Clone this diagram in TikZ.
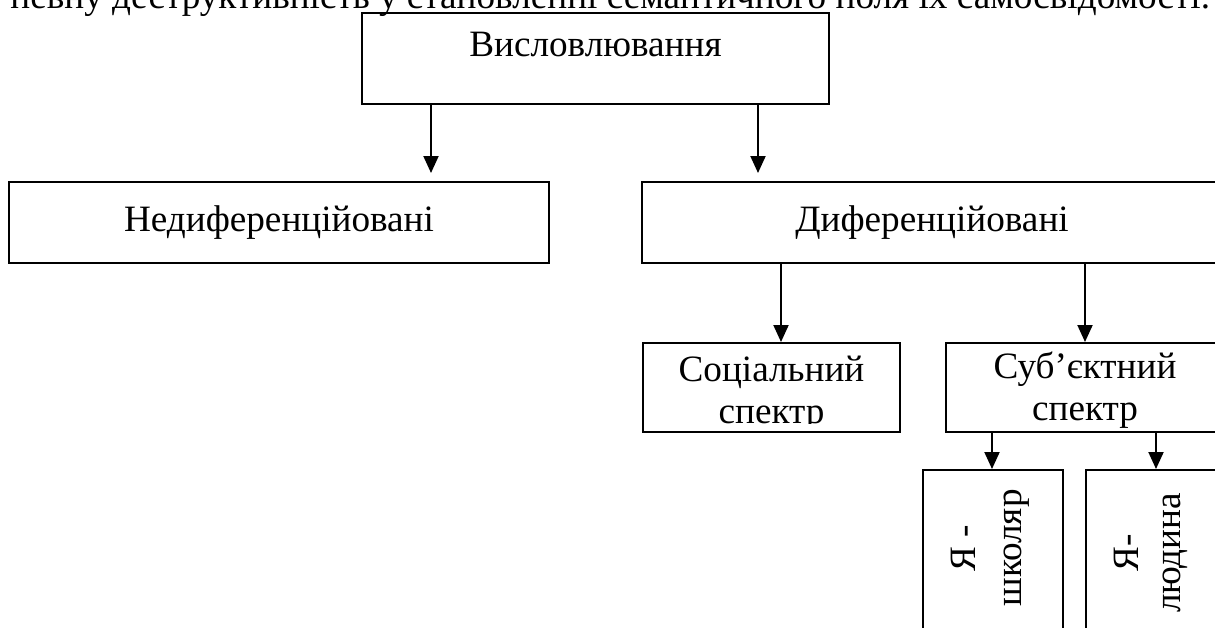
\documentclass[tikz,border=0pt]{standalone}
\usepackage{fontspec}
\setmainfont{Liberation Serif}
\usepackage{tikz}
\usetikzlibrary{arrows.meta,fit}
\tikzset{
  font={\fontsize{18.6pt}{21pt}\selectfont}}

\begin{document}
\begin{tikzpicture}[x=0.5pt,y=-0.5pt]
\tikzstyle{every node}+=[inner sep=0pt]
\tikzstyle{box}=[draw=black, line width=1pt]
\tikzstyle{arr}=[black, line width=1pt, -{Triangle[width=7.5pt,length=8.5pt]}]
\tikzstyle{vtext}=[rotate=90, align=center, font={\fontsize{18.6pt}{23pt}\selectfont}]
\useasboundingbox (0,0) rectangle (1215,627);
% line of the page text above the scheme
\node [anchor=base west] (prev) at (10,8) {певну деструктивність у становленні семантичного поля їх самосвідомості.};
% level 1
\node [box, fit={(362,13) (829,104)}] (vysl) {};
\node [anchor=base] (vysl-t) at (595.5,56) {Висловлювання};
% level 2
\node [box, fit={(9,182) (549,263)}] (nedyf) {};
\node [anchor=base] (nedyf-t) at (279,231) {Недиференційовані};
\node [box, fit={(642,182) (1240,263)}] (dyf) {};
\node [anchor=base] (dyf-t) at (932,231) {Диференційовані};
\draw [arr] (vysl.south west) ++(70,0) -- ++(0,68);
\draw [arr] (vysl.south west) ++(397,0) -- ++(0,68);
% level 3
\node [box, fit={(643,343) (900,432)}] (soc) {};
\begin{scope}
\clip (soc.north west) rectangle (900,423);
\node [align=center] (soc-t) at (771.5,394) {Соціальний\\спектр};
\end{scope}
\node [box, fit={(946,343) (1240,432)}] (sub) {};
\node [align=center] (sub-t) at (1085,390) {Суб’єктний\\спектр};
\draw [arr] (dyf.south west) ++(140,0) -- ++(0,78);
\draw [arr] (dyf.south west) ++(444,0) -- ++(0,78);
% level 4
\node [box, fit={(923,470) (1063,640)}] (shk) {};
\node [vtext] (shk-t) at (990,548) {Я -\\школяр};
\node [box, fit={(1086,470) (1240,640)}] (lud) {};
\node [vtext, font={\fontsize{18.6pt}{21pt}\selectfont}] (lud-t) at (1151,553) {Я-\\людина};
\draw [arr] (sub.south west) ++(47,0) -- ++(0,36);
\draw [arr] (sub.south west) ++(211,0) -- ++(0,36);
\end{tikzpicture}
\end{document}
